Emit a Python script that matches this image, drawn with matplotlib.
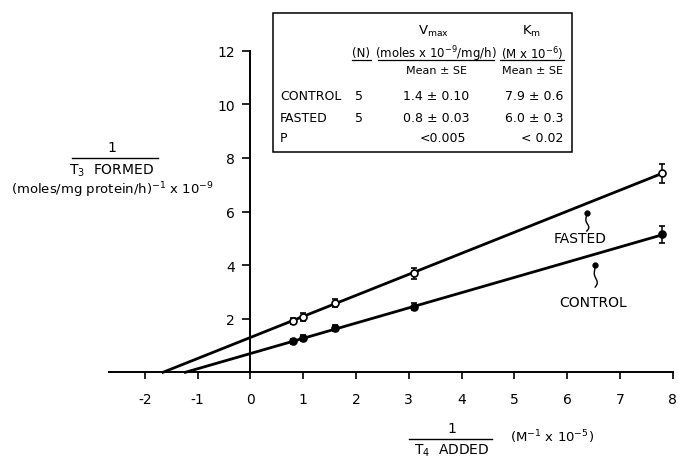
import numpy as np
import matplotlib
matplotlib.use("Agg")
import matplotlib.pyplot as plt
from matplotlib.patches import Rectangle
from matplotlib.lines import Line2D

# ---------------- data ----------------
x_inv_t4 = [0.8, 1.0, 1.6, 3.1, 7.8]
fasted_vals = [1.92, 2.08, 2.58, 3.70, 7.42]
fasted_err = [0.12, 0.15, 0.15, 0.20, 0.35]
control_vals = [1.15, 1.28, 1.65, 2.45, 5.15]
control_err = [0.10, 0.12, 0.12, 0.12, 0.32]
fasted_fit = [1.30, 0.785]    # intercept, slope
control_fit = [0.70, 0.568]   # intercept, slope

x_ticks = [-2, -1, 0, 1, 2, 3, 4, 5, 6, 7, 8]
y_ticks = [2, 4, 6, 8, 10, 12]

table_groups = ["CONTROL", "FASTED"]
table_n = ["5", "5"]
table_vmax = ["1.4 \u00b1 0.10", "0.8 \u00b1 0.03"]
table_km = ["7.9 \u00b1 0.6", "6.0 \u00b1 0.3"]
table_p = ["<0.005", "< 0.02"]

W, H = 678, 460
fig = plt.figure(figsize=(W / 100, H / 100), dpi=100)

def fx(px):
    return px / W

def fy(py):
    return 1 - py / H

def ftext(px, py, s, **kw):
    kw.setdefault("fontsize", 9)
    kw.setdefault("ha", "center")
    kw.setdefault("va", "center")
    fig.text(fx(px), fy(py), s, **kw)

def fline(x0, x1, y0, y1, lw=1.0):
    fig.add_artist(Line2D([fx(x0), fx(x1)], [fy(y0), fy(y1)],
                          transform=fig.transFigure, color="black", lw=lw))

# axes placement (pixels)
L, R, T, B = 108.9, 672.8, 51.7, 373.3
ax = fig.add_axes([fx(L), fy(B), (R - L) / W, (B - T) / H])
ax.set_xlim(-2.68, 8.0)
ax.set_ylim(0, 12)
ax.patch.set_visible(False)
for s in ("top", "right"):
    ax.spines[s].set_visible(False)
ax.spines["left"].set_position(("data", 0))
ax.spines["left"].set_bounds(0, 12)
for s in ("left", "bottom"):
    ax.spines[s].set_linewidth(1.4)
ax.set_xticks(x_ticks)
ax.set_xticklabels([str(v) for v in x_ticks])
ax.set_yticks(y_ticks)
ax.set_yticklabels([str(v) for v in y_ticks])
ax.tick_params(axis="x", direction="out", length=5, width=1.2, pad=9, labelsize=10)
ax.tick_params(axis="y", direction="out", length=6, width=1.2, pad=5, labelsize=10)

# fitted lines
for fit in (fasted_fit, control_fit):
    b, m = fit
    xs = np.array([-b / m, x_inv_t4[-1]])
    ax.plot(xs, b + m * xs, color="black", lw=2.0, clip_on=False, zorder=2)

# data points
ax.errorbar(x_inv_t4, fasted_vals, yerr=fasted_err, fmt="o", ms=5,
            mfc="white", mec="black", mew=1.2, ecolor="black", elinewidth=1.1,
            capsize=2.5, capthick=1.1, clip_on=False, zorder=3)
ax.errorbar(x_inv_t4, control_vals, yerr=control_err, fmt="o", ms=5,
            mfc="black", mec="black", mew=1.2, ecolor="black", elinewidth=1.1,
            capsize=2.5, capthick=1.1, clip_on=False, zorder=3)

# squiggly pointers
def squiggle(x_tip, y_tip, y_tail):
    t = np.linspace(0, 1, 60)
    ys = y_tail + (y_tip - y_tail) * t
    xs = x_tip + 0.05 * np.sin(2 * np.pi * 1.1 * t) * (1 - t)
    ax.plot(xs, ys, color="black", lw=1.0)
    ax.plot([x_tip], [y_tip], marker="o", ms=3.5, color="black")

squiggle(6.37, 5.95, 5.27)
squiggle(6.53, 4.00, 3.18)
ax.text(6.24, 5.0, "FASTED", ha="center", va="center", fontsize=10)
ax.text(6.49, 2.63, "CONTROL", ha="center", va="center", fontsize=10)

# y label
ftext(112, 148, "1", fontsize=10)
fline(72, 158, 159, 159, lw=1.0)
ftext(112, 171, "T$_3$  FORMED", fontsize=10)
ftext(112, 190, "(moles/mg protein/h)$^{-1}$ x 10$^{-9}$", fontsize=9.5)

# x label
ftext(452, 429, "1", fontsize=10)
fline(409, 492, 440, 440, lw=1.0)
ftext(452, 451, "T$_4$  ADDED", fontsize=10)
ftext(552, 437, "(M$^{-1}$ x 10$^{-5}$)", fontsize=9.5)

# table box
fig.add_artist(Rectangle((fx(273), fy(153)), (572 - 273) / W, (153 - 14) / H,
                         transform=fig.transFigure, fill=False, lw=1.1,
                         edgecolor="black"))
ftext(434, 31, r"V$_{\mathrm{max}}$", fontsize=9.5)
ftext(532, 31, r"K$_{\mathrm{m}}$", fontsize=9.5)
ftext(361, 54, "(N)", fontsize=8.5)
ftext(436, 54, "(moles x 10$^{-9}$/mg/h)", fontsize=8.5)
ftext(532, 54, "(M x 10$^{-6}$)", fontsize=8.5)
fline(352, 371, 61, 61, lw=0.9)
fline(378, 494, 61, 61, lw=0.9)
fline(500, 564, 61, 61, lw=0.9)
ftext(436, 71, "Mean \u00b1 SE", fontsize=8)
ftext(532, 71, "Mean \u00b1 SE", fontsize=8)

row_y = [97, 118]
for yy, g, n, vm, km in zip(row_y, table_groups, table_n, table_vmax, table_km):
    ftext(280, yy, g, ha="left", fontsize=9)
    ftext(359, yy, n, fontsize=9)
    ftext(436, yy, vm, fontsize=9)
    ftext(563, yy, km, ha="right", fontsize=9)
ftext(280, 138, "P", ha="left", fontsize=9)
ftext(466, 138, table_p[0], ha="right", fontsize=9)
ftext(563, 138, table_p[1], ha="right", fontsize=9)

fig.savefig("out.png", dpi=100)
